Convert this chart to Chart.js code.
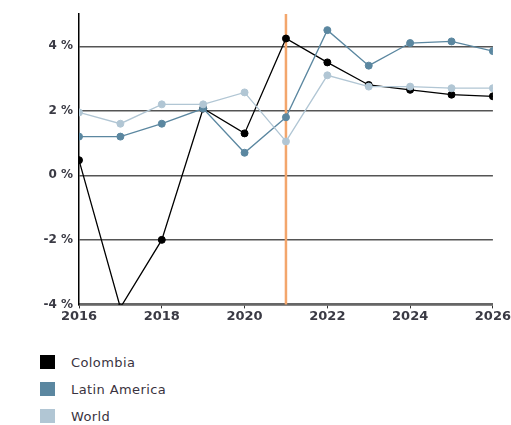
<!DOCTYPE html>
<html>
<head>
<meta charset="utf-8">
<script src="https://cdn.jsdelivr.net/npm/chart.js@4.4.0/dist/chart.umd.min.js"></script>
<style>
  body { margin: 0; background: #fff; font-family: "DejaVu Sans", Verdana, sans-serif; }
  #wrap { position: relative; width: 511px; height: 425px; }
  #chart { position: absolute; left: 0; top: 0; }
  #legend { position: absolute; left: 40px; top: 355px; font-size: 13px; letter-spacing: 0.4px; color: #3a3340; }
  #legend div { height: 27px; display: flex; align-items: flex-start; line-height: 15px; }
  #legend span.box { display: inline-block; width: 15px; height: 14px; margin-right: 16px; }
</style>
</head>
<body>
<div id="wrap">
  <canvas id="chart" width="511" height="330"></canvas>
  <div id="legend"></div>
</div>
<script>
const years = [2016, 2017, 2018, 2019, 2020, 2021, 2022, 2023, 2024, 2025, 2026];
const colombia = [0.47, -4.1, -2.0, 2.07, 1.3, 4.24, 3.5, 2.8, 2.65, 2.5, 2.45];
const latinAmerica = [1.2, 1.2, 1.6, 2.07, 0.7, 1.8, 4.5, 3.4, 4.1, 4.15, 3.85];
const world = [1.95, 1.6, 2.2, 2.2, 2.57, 1.05, 3.1, 2.75, 2.75, 2.7, 2.7];
const seriesNames = ['Colombia', 'Latin America', 'World'];
const seriesColors = ['#000000', '#5b87a0', '#b1c6d4'];
const markerYear = 2021;

function toPoints(values) {
  return values.map((v, i) => ({ x: years[i], y: v }));
}

// orange vertical line at the marker year
const markerLine = {
  id: 'markerLine',
  beforeDatasetsDraw(chart) {
    const ctx = chart.ctx;
    const x = chart.scales.x.getPixelForValue(markerYear);
    ctx.save();
    ctx.strokeStyle = '#f3a66c';
    ctx.lineWidth = 2.5;
    ctx.beginPath();
    ctx.moveTo(x, chart.chartArea.top);
    ctx.lineTo(x, chart.chartArea.bottom);
    ctx.stroke();
    ctx.restore();
  }
};

const allSeries = [colombia, latinAmerica, world];
const datasets = allSeries.map((vals, i) => ({
  label: seriesNames[i],
  data: toPoints(vals),
  borderColor: seriesColors[i],
  backgroundColor: seriesColors[i],
  borderWidth: 1.3,
  pointRadius: 3.5,
  pointBorderWidth: 1,
  pointHoverRadius: 3.5,
  tension: 0
})).reverse();

const ctx = document.getElementById('chart').getContext('2d');
new Chart(ctx, {
  type: 'line',
  data: { datasets: datasets },
  options: {
    responsive: false,
    animation: false,
    layout: { padding: { left: 0, right: 17, top: 14, bottom: 6 } },
    plugins: { legend: { display: false }, tooltip: { enabled: false } },
    scales: {
      x: {
        type: 'linear',
        min: 2016,
        max: 2026,
        ticks: {
          stepSize: 2,
          color: '#3a3a44',
          font: { family: 'DejaVu Sans', size: 13, weight: 'bold' },
          padding: 0,
          callback: v => String(v)
        },
        grid: { drawOnChartArea: false, drawTicks: true, tickLength: 4, color: '#333' },
        border: { color: '#666', width: 2.5 }
      },
      y: {
        min: -4,
        max: 5,
        afterBuildTicks: axis => { axis.ticks = axis.ticks.filter(t => t.value % 2 === 0); },
        afterFit: axis => { axis.width = 79; },
        ticks: {
          stepSize: 1,
          color: '#3a3a44',
          font: { family: 'DejaVu Sans', size: 12, weight: 'bold' },
          padding: 6,
          callback: v => v + ' %'
        },
        grid: { color: '#555', lineWidth: 1.5, drawTicks: false },
        border: { color: '#000', width: 1.5 }
      }
    }
  },
  plugins: [markerLine]
});

const legend = document.getElementById('legend');
seriesNames.forEach((name, i) => {
  const row = document.createElement('div');
  row.innerHTML = '<span class="box" style="background:' + seriesColors[i] + '"></span>' + name;
  legend.appendChild(row);
});
</script>
</body>
</html>
